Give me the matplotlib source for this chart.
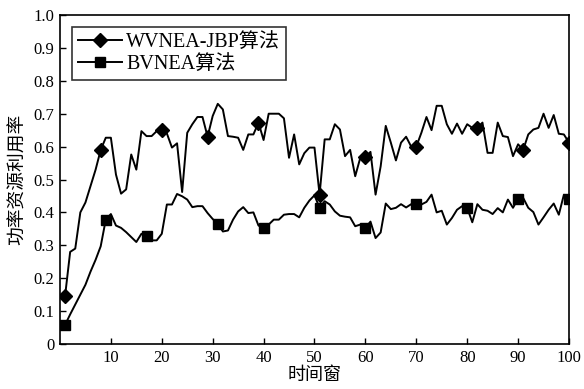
import matplotlib
matplotlib.use("Agg")
import matplotlib.pyplot as plt

t = list(range(1, 101))

wvnea_jbp = [
    0.146, 0.28, 0.29, 0.40, 0.43, 0.48, 0.53, 0.59, 0.627, 0.627,
    0.515, 0.457, 0.47, 0.576, 0.53, 0.647, 0.632, 0.632, 0.647, 0.65,
    0.64, 0.597, 0.61, 0.462, 0.642, 0.668, 0.69, 0.69, 0.63, 0.693,
    0.73, 0.713, 0.632, 0.63, 0.627, 0.59, 0.637, 0.637, 0.673, 0.62,
    0.70, 0.70, 0.70, 0.686, 0.566, 0.637, 0.546, 0.58, 0.597, 0.597,
    0.454, 0.622, 0.622, 0.668, 0.652, 0.571, 0.59, 0.51, 0.566, 0.568,
    0.584, 0.454, 0.54, 0.663, 0.612, 0.558, 0.612, 0.63, 0.60, 0.60,
    0.642, 0.69, 0.65, 0.724, 0.724, 0.668, 0.639, 0.67, 0.639, 0.668,
    0.657, 0.657, 0.673, 0.581, 0.581, 0.673, 0.632, 0.629, 0.571, 0.607,
    0.59, 0.637, 0.652, 0.657, 0.70, 0.657, 0.696, 0.639, 0.637, 0.612,
]

bvnea = [
    0.058, 0.09, 0.12, 0.15, 0.18, 0.22, 0.256, 0.297, 0.378, 0.395,
    0.36, 0.353, 0.34, 0.325, 0.31, 0.335, 0.327, 0.315, 0.315, 0.335,
    0.424, 0.424, 0.456, 0.449, 0.439, 0.416, 0.419, 0.419, 0.398, 0.38,
    0.366, 0.342, 0.345, 0.378, 0.403, 0.416, 0.398, 0.40, 0.36, 0.353,
    0.363, 0.378, 0.378, 0.393, 0.395, 0.395, 0.385, 0.414, 0.436, 0.452,
    0.414, 0.434, 0.424, 0.403, 0.39, 0.387, 0.385, 0.358, 0.363, 0.353,
    0.372, 0.322, 0.339, 0.427, 0.41, 0.414, 0.425, 0.415, 0.425, 0.425,
    0.424, 0.432, 0.454, 0.40, 0.405, 0.363, 0.383, 0.408, 0.419, 0.414,
    0.37, 0.425, 0.408, 0.405, 0.395, 0.413, 0.40, 0.439, 0.414, 0.442,
    0.444, 0.414, 0.401, 0.363, 0.385, 0.408, 0.427, 0.393, 0.454, 0.44,
]

diamond_at = [1, 8, 20, 29, 39, 51, 60, 70, 82, 91, 100]
square_at = [1, 9, 17, 31, 40, 51, 60, 70, 80, 90, 100]

xticks = [10, 20, 30, 40, 50, 60, 70, 80, 90, 100]
yticks = [0, 0.1, 0.2, 0.3, 0.4, 0.5, 0.6, 0.7, 0.8, 0.9, 1.0]
ytick_labels = ["0", "0.1", "0.2", "0.3", "0.4", "0.5", "0.6", "0.7", "0.8", "0.9", "1.0"]

labels = ["WVNEA-JBP算法", "BVNEA算法"]
xlabel = "时间窗"
ylabel = "功率资源利用率"

fam = ["Liberation Serif", "Noto Sans CJK SC"]
plt.rcParams["font.family"] = fam

fig = plt.figure(figsize=(5.84, 3.89), dpi=100)
ax = fig.add_axes([0.1027, 0.1157, 0.8716, 0.8457])

ax.plot(t, wvnea_jbp, color="black", lw=1.4, marker="D", markersize=7.5,
        markevery=[i - 1 for i in diamond_at], label=labels[0])
ax.plot(t, bvnea, color="black", lw=1.4, marker="s", markersize=7.5,
        markevery=[i - 1 for i in square_at], label=labels[1])

ax.set_xlim(0, 100)
ax.set_ylim(0, 1.0)
ax.set_xticks(xticks)
ax.set_yticks(yticks)
ax.set_yticklabels(ytick_labels)
ax.tick_params(direction="in", length=4, width=1, labelsize=12, pad=4)
for s in ax.spines.values():
    s.set_linewidth(1.2)

ax.set_xlabel(xlabel, fontsize=13, labelpad=1)
ax.set_ylabel(ylabel, fontsize=13.5, labelpad=5)

leg = ax.legend(loc="upper left", fontsize=14.5, frameon=True, fancybox=False,
                edgecolor="black", handlelength=2.2, handletextpad=0.2,
                borderpad=0.3, labelspacing=0.15, borderaxespad=0.6)
leg.get_frame().set_linewidth(1.2)

fig.savefig("out.png", dpi=100)
